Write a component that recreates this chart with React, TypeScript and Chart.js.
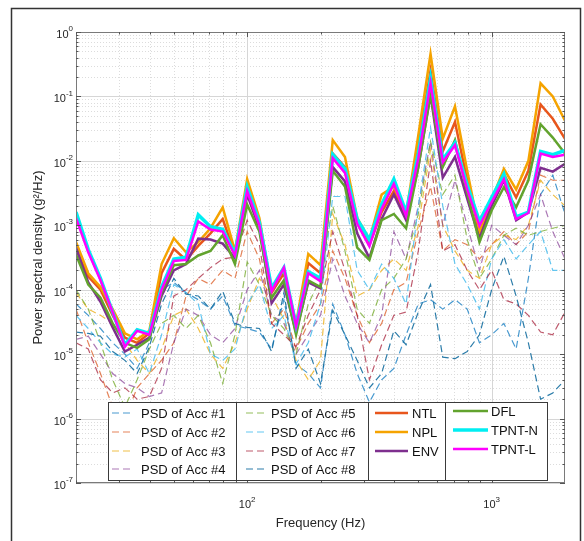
import React, { useEffect, useRef } from 'react';
import { Chart, registerables } from 'chart.js';

Chart.register(...registerables);

// ---------------- data ----------------
const freqHz = [
  19.95, 22.39, 25.12, 28.18, 31.62, 35.48, 39.81, 44.67, 50.12, 56.23,
  63.1, 70.79, 79.43, 89.13, 100, 112.2, 125.9, 141.3, 158.5, 177.8,
  199.5, 223.9, 251.2, 281.8, 316.2, 354.8, 398.1, 446.7, 501.2, 562.3,
  631.0, 707.9, 794.3, 891.3, 1000, 1122, 1259, 1413, 1585, 1778,
  1995,
];

const acc1 = [6e-5, 4e-5, 2.5e-5, 1.5e-5, 1e-5, 6e-6, 1.5e-5, 1e-4, 1.3e-4, 9e-5,
  7e-5, 5e-5, 8e-5, 2.8e-5, 2.5e-5, 2.2e-5, 1.2e-5, 7e-5, 7e-6, 5e-6,
  3e-6, 6e-5, 2e-5, 5e-6, 1.8e-6, 4e-6, 6e-6, 2e-5, 6e-5, 7e-5,
  5e-5, 7e-5, 5e-5, 1.5e-5, 2e-5, 3e-5, 1.2e-5, 1.5e-4, 3e-3, 6e-3,
  1.5e-3];
const acc2 = [5e-5, 1.5e-5, 5e-6, 1.5e-6, 1e-6, 3e-6, 5e-6, 8e-6, 1.5e-5, 8e-5,
  1.5e-4, 1.2e-4, 2e-4, 1.5e-4, 8e-4, 3e-4, 3e-5, 5e-5, 1.2e-5, 3e-5,
  6e-5, 4e-4, 1.5e-4, 4e-5, 1.5e-5, 3e-5, 1e-4, 1.3e-4, 8e-4, 4e-3,
  4e-4, 6e-4, 5e-4, 3e-4, 5e-4, 8e-4, 5e-4, 8e-4, 6e-3, 5e-3,
  5e-3];
const acc3 = [9e-5, 5e-5, 4e-5, 3e-5, 1.5e-5, 8e-6, 5e-6, 1.2e-5, 4e-5, 5e-5,
  2.5e-5, 1e-5, 6e-6, 1.5e-5, 5e-5, 1.5e-4, 8e-5, 3.5e-5, 8e-6, 4e-6,
  8e-6, 1.5e-3, 5e-4, 8e-5, 1e-4, 2e-4, 3e-4, 2e-4, 1e-3, 1.5e-2,
  1e-3, 4e-4, 2e-4, 1.5e-4, 5e-4, 7e-4, 6e-4, 1e-3, 5e-3, 3e-3,
  2e-3];
const acc4 = [1.7e-5, 1.9e-5, 1e-5, 5e-6, 3.5e-6, 3e-6, 2.2e-6, 2.5e-6, 1.5e-5, 5e-5,
  4e-5, 2e-5, 1.5e-5, 2.5e-5, 1e-4, 2e-4, 4e-5, 3e-5, 1e-5, 2e-5,
  4e-5, 3e-4, 8e-5, 3e-5, 1.5e-5, 4e-5, 8e-4, 3e-4, 2e-3, 2e-2,
  1e-3, 5e-3, 1e-3, 2e-4, 1e-3, 7e-4, 5e-4, 1e-3, 3e-3, 8e-4,
  3e-4];
const acc5 = [1e-4, 5e-5, 1.5e-5, 4e-6, 1.5e-6, 4e-6, 1.2e-5, 3e-5, 4e-5, 2.5e-5,
  4e-5, 1.5e-5, 3.5e-6, 2e-5, 2.7e-4, 1.2e-4, 4e-5, 2.5e-5, 1e-5, 6e-5,
  1.5e-4, 2e-3, 4e-4, 5e-5, 3e-5, 1e-4, 1.5e-4, 3e-4, 1.5e-3, 2e-2,
  3e-3, 6e-3, 6e-4, 1.5e-4, 3e-4, 7e-4, 9e-4, 7e-4, 8e-4, 9e-4,
  1e-3];
const acc6 = [4e-5, 2.5e-5, 1.5e-5, 1e-5, 9e-6, 1.2e-5, 5e-6, 2e-5, 1.2e-4, 9e-5,
  6e-5, 1e-5, 8e-6, 1.2e-5, 6e-5, 1.2e-4, 2.5e-5, 4e-5, 7e-6, 1.5e-5,
  6e-5, 2.8e-3, 2.8e-3, 2e-4, 1e-4, 2.5e-4, 1.5e-4, 6e-5, 2e-3, 3.3e-2,
  2e-3, 2.5e-4, 1.2e-4, 5e-5, 3e-4, 6e-4, 3e-4, 5e-4, 8e-4, 2e-4,
  2e-4];
const acc7 = [1.5e-5, 1.2e-5, 4e-6, 2.5e-6, 3e-6, 2e-6, 2.2e-6, 6e-6, 8e-5, 1e-4,
  1.5e-4, 2.2e-4, 3e-4, 3.2e-4, 1.2e-3, 5e-4, 3e-5, 2e-5, 1.3e-5, 4e-5,
  1e-4, 8e-4, 2e-4, 4e-5, 4e-6, 1.4e-5, 4e-5, 4.5e-5, 4e-4, 1e-2,
  4e-4, 5e-4, 2e-4, 1e-4, 2e-4, 7e-5, 6e-5, 4e-5, 2.2e-5, 2e-5,
  4.5e-5];
const acc8 = [2.2e-5, 2.1e-5, 1.9e-5, 1.1e-5, 8e-6, 5e-6, 1.3e-5, 6e-5, 1.5e-4, 8.5e-5,
  8e-5, 5e-5, 9.5e-5, 3e-5, 2.6e-5, 2.5e-5, 1.1e-5, 9e-5, 6e-6, 1.2e-5,
  3.5e-6, 4.8e-5, 2e-5, 8e-6, 3e-6, 5e-6, 2.3e-5, 1.4e-5, 4.5e-5, 1.2e-4,
  9e-6, 8.5e-6, 1.1e-5, 2e-5, 1e-4, 3.3e-4, 8e-5, 1.5e-5, 2e-6, 2.5e-6,
  4e-6];

const ntl = [4.2e-4, 1.6e-4, 1.0e-4, 4.0e-5, 1.8e-5, 1.5e-5, 2.1e-5, 1.8e-4, 4.3e-4, 2.9e-4,
  4.8e-4, 7.5e-4, 1.25e-3, 3.6e-4, 4.2e-3, 1.1e-3, 9.0e-5, 1.8e-4, 2.6e-5, 2.6e-4,
  1.8e-4, 1.3e-2, 8.0e-3, 1.1e-3, 5.0e-4, 1.6e-3, 3.4e-3, 1.3e-3, 1.8e-2, 2.5e-1,
  1.4e-2, 4.0e-2, 5.0e-3, 7.5e-4, 2.3e-3, 6.2e-3, 2.7e-3, 7.0e-3, 7.5e-2, 4.5e-2,
  2.2e-2];
const npl = [5.5e-4, 1.8e-4, 1.1e-4, 5e-5, 2.1e-5, 1.7e-5, 2.3e-5, 2.5e-4, 6.3e-4, 3.8e-4,
  5.5e-4, 9e-4, 1.9e-3, 4e-4, 5.2e-3, 1.3e-3, 1.0e-4, 2.1e-4, 3e-5, 3.6e-4,
  2.4e-4, 2.1e-2, 1.15e-2, 1.3e-3, 6e-4, 3e-3, 4e-3, 1.5e-3, 2.5e-2, 4.6e-1,
  2.2e-2, 7e-2, 7e-3, 8e-4, 2.5e-3, 7.5e-3, 3.6e-3, 1e-2, 1.6e-1, 1.0e-1,
  4.2e-2];
const env = [4.5e-4, 1.3e-4, 6.5e-5, 2.6e-5, 1.1e-5, 1.4e-5, 1.8e-5, 8.0e-5, 2.0e-4, 2.5e-4,
  6.2e-4, 6.0e-4, 5.2e-4, 3.1e-4, 3.0e-3, 9.0e-4, 6.2e-5, 1.2e-4, 2.2e-5, 1.3e-4,
  1.05e-4, 8.0e-3, 4.8e-3, 7.5e-4, 3.1e-4, 1.25e-3, 3.0e-3, 1.2e-3, 8.0e-3, 1.05e-1,
  5.5e-3, 1.15e-2, 2.6e-3, 6.2e-4, 2.0e-3, 5.0e-3, 1.2e-3, 1.6e-3, 7.8e-3, 6.8e-3,
  9.0e-3];
const dfl = [3.5e-4, 1.2e-4, 7.5e-5, 3.0e-5, 1.5e-5, 1.25e-5, 1.7e-5, 9.0e-5, 2.4e-4, 2.5e-4,
  3.4e-4, 4.0e-4, 7.0e-4, 2.5e-4, 2.1e-3, 8.0e-4, 7.5e-5, 1.4e-4, 2.0e-5, 1.4e-4,
  1.1e-4, 7.0e-3, 4.0e-3, 4.5e-4, 2.9e-4, 1.2e-3, 1.5e-3, 9.0e-4, 8.0e-3, 1.1e-1,
  8.0e-3, 2.1e-2, 3.2e-3, 5.5e-4, 1.7e-3, 3.9e-3, 1.9e-3, 5.0e-3, 3.7e-2, 2.3e-2,
  1.3e-2];
const tpntN = [1.6e-3, 4.2e-4, 1.5e-4, 4.5e-5, 1.4e-5, 2.4e-5, 2.1e-5, 1.1e-4, 3.0e-4, 3.2e-4,
  1.45e-3, 9.5e-4, 8.7e-4, 3.6e-4, 3.9e-3, 1.1e-3, 1.05e-4, 2.2e-4, 2.8e-5, 1.9e-4,
  1.5e-4, 1.25e-2, 7.5e-3, 1.25e-3, 6.0e-4, 2.1e-3, 5.2e-3, 1.6e-3, 1.3e-2, 1.9e-1,
  1.05e-2, 1.9e-2, 4.2e-3, 1.15e-3, 2.7e-3, 6.2e-3, 1.35e-3, 1.6e-3, 1.4e-2, 1.25e-2,
  1.45e-2];
const tpntL = [1.3e-3, 3.8e-4, 1.4e-4, 4.5e-5, 1.3e-5, 2.3e-5, 2.0e-5, 1.0e-4, 2.8e-4, 2.9e-4,
  1.15e-3, 8.6e-4, 8.0e-4, 3.4e-4, 3.4e-3, 1.0e-3, 9.5e-5, 2.2e-4, 2.7e-5, 1.8e-4,
  1.35e-4, 1.1e-2, 6.5e-3, 1.05e-3, 4.7e-4, 1.8e-3, 4.4e-3, 1.4e-3, 1.1e-2, 1.6e-1,
  9.5e-3, 1.75e-2, 3.6e-3, 9.8e-4, 2.3e-3, 5.2e-3, 1.25e-3, 1.55e-3, 1.3e-2, 1.15e-2,
  1.25e-2];

const accLabels = ['PSD of Acc #1', 'PSD of Acc #2', 'PSD of Acc #3', 'PSD of Acc #4',
  'PSD of Acc #5', 'PSD of Acc #6', 'PSD of Acc #7', 'PSD of Acc #8'];
const methodLabels = ['NTL', 'NPL', 'ENV', 'DFL', 'TPNT-N', 'TPNT-L'];

const yTickExps = [0, -1, -2, -3, -4, -5, -6, -7];
const xTickExps = [2, 3];
const xTitle = 'Frequency (Hz)';
const yTitle = 'Power spectral density (g\u00B2/Hz)';

// ---------------- styles ----------------
const accColors = [
  'rgba(0,114,189,0.72)', 'rgba(217,83,25,0.72)', 'rgba(237,177,32,0.82)', 'rgba(126,47,142,0.65)',
  'rgba(119,172,48,0.78)', 'rgba(77,190,238,0.88)', 'rgba(162,20,47,0.7)', 'rgba(20,110,160,0.9)',
];
const methodColors = ['#E8561C', '#F5A300', '#7E2F8E', '#62A32E', '#00EEF2', '#FF00FF'];
const methodWidths = [2.5, 2.5, 2.5, 2.5, 3.5, 2.5];

const FONT = '"Liberation Sans", Arial, Helvetica, sans-serif';

function decadeValues(lo: number, hi: number) {
  const out: { v: number; major: boolean }[] = [];
  for (let e = -8; e <= 4; e++) {
    for (let m = 1; m <= 9; m++) {
      const v = m * Math.pow(10, e);
      if (v >= lo * 0.999 && v <= hi * 1.001) out.push({ v, major: m === 1 });
    }
  }
  return out;
}

const matlabPlugin = {
  id: 'matlabStyle',
  beforeDatasetsDraw(chart: any) {
    const { ctx, chartArea: a, scales } = chart;
    const x = scales.x, y = scales.y;
    const yv = decadeValues(y.min, y.max);
    const xv = decadeValues(x.min, x.max);
    ctx.save();
    ctx.lineWidth = 1;
    // minor grid
    ctx.strokeStyle = '#dcdcdc';
    ctx.setLineDash([1, 2]);
    ctx.beginPath();
    yv.filter(t => !t.major).forEach(t => {
      const p = Math.round(y.getPixelForValue(t.v)) + 0.5;
      ctx.moveTo(a.left, p); ctx.lineTo(a.right, p);
    });
    xv.filter(t => !t.major).forEach(t => {
      const p = Math.round(x.getPixelForValue(t.v)) + 0.5;
      ctx.moveTo(p, a.top); ctx.lineTo(p, a.bottom);
    });
    ctx.stroke();
    // major grid
    ctx.setLineDash([]);
    ctx.strokeStyle = '#d6d6d6';
    ctx.beginPath();
    yv.filter(t => t.major).forEach(t => {
      const p = Math.round(y.getPixelForValue(t.v)) + 0.5;
      ctx.moveTo(a.left, p); ctx.lineTo(a.right, p);
    });
    xv.filter(t => t.major).forEach(t => {
      const p = Math.round(x.getPixelForValue(t.v)) + 0.5;
      ctx.moveTo(p, a.top); ctx.lineTo(p, a.bottom);
    });
    ctx.stroke();
    ctx.restore();
  },
  afterDatasetsDraw(chart: any) {
    const { ctx, chartArea: a, scales } = chart;
    const x = scales.x, y = scales.y;
    const yv = decadeValues(y.min, y.max);
    const xv = decadeValues(x.min, x.max);
    ctx.save();

    // plot box
    ctx.strokeStyle = '#7a7a7a';
    ctx.lineWidth = 1;
    ctx.strokeRect(Math.round(a.left) + 0.5, Math.round(a.top) + 0.5,
      Math.round(a.right - a.left) - 1, Math.round(a.bottom - a.top) - 1);

    // tick marks (inside, all four sides)
    ctx.strokeStyle = '#555';
    ctx.beginPath();
    yv.forEach(t => {
      const p = Math.round(y.getPixelForValue(t.v)) + 0.5;
      const L = t.major ? 5 : 2.5;
      ctx.moveTo(a.left, p); ctx.lineTo(a.left + L, p);
      ctx.moveTo(a.right, p); ctx.lineTo(a.right - L, p);
    });
    xv.forEach(t => {
      const p = Math.round(x.getPixelForValue(t.v)) + 0.5;
      const L = t.major ? 5 : 2.5;
      ctx.moveTo(p, a.bottom); ctx.lineTo(p, a.bottom - L);
      ctx.moveTo(p, a.top); ctx.lineTo(p, a.top + L);
    });
    ctx.stroke();

    // tick labels
    ctx.fillStyle = '#262626';
    ctx.textBaseline = 'middle';
    const bigF = '11px ' + FONT, smallF = '8px ' + FONT;
    yTickExps.forEach(e => {
      const py = y.getPixelForValue(Math.pow(10, e));
      const es = String(e);
      ctx.font = smallF;
      const ew = ctx.measureText(es).width;
      const right = a.left - 3;
      ctx.textAlign = 'left';
      ctx.fillText(es, right - ew, py - 3);
      ctx.font = bigF;
      ctx.textAlign = 'right';
      ctx.fillText('10', right - ew, py + 3);
    });
    xTickExps.forEach(e => {
      const px = x.getPixelForValue(Math.pow(10, e));
      const es = String(e);
      ctx.font = smallF;
      const ew = ctx.measureText(es).width;
      ctx.font = bigF;
      const bw = ctx.measureText('10').width;
      const start = px - (bw + ew) / 2;
      ctx.textAlign = 'left';
      ctx.fillText('10', start, a.bottom + 22);
      ctx.font = smallF;
      ctx.fillText(es, start + bw, a.bottom + 17);
    });

    // axis titles
    ctx.font = '13px ' + FONT;
    ctx.textAlign = 'center';
    ctx.fillText(xTitle, (a.left + a.right) / 2, a.bottom + 40);
    ctx.save();
    ctx.translate(38, (a.top + a.bottom) / 2);
    ctx.rotate(-Math.PI / 2);
    ctx.fillText(yTitle, 0, 0);
    ctx.restore();

    // legend
    const L = { left: 108.5, top: 402.5, right: 547.5, bottom: 480.5, divs: [236.5, 368.5, 445.5] };
    ctx.fillStyle = '#ffffff';
    ctx.fillRect(L.left, L.top, L.right - L.left, L.bottom - L.top);
    ctx.strokeStyle = '#3a3a3a';
    ctx.lineWidth = 1;
    ctx.strokeRect(L.left, L.top, L.right - L.left, L.bottom - L.top);
    ctx.beginPath();
    L.divs.forEach(d => { ctx.moveTo(d, L.top); ctx.lineTo(d, L.bottom); });
    ctx.stroke();

    const ds = chart.data.datasets;
    const cols = [
      { lx0: 112, lx1: 134, tx: 141, rows: [413, 432, 451, 469], items: [0, 1, 2, 3] },
      { lx0: 246, lx1: 267, tx: 271, rows: [413, 432, 451, 469], items: [4, 5, 6, 7] },
      { lx0: 375, lx1: 408, tx: 412, rows: [413, 432, 451], items: [8, 9, 10] },
      { lx0: 453, lx1: 488, tx: 491, rows: [411, 430, 449], items: [11, 12, 13] },
    ];
    ctx.font = '13px ' + FONT;
    ctx.textAlign = 'left';
    ctx.textBaseline = 'middle';
    cols.forEach(c => {
      c.items.forEach((di, r) => {
        const d = ds[di];
        const ry = c.rows[r];
        ctx.save();
        ctx.strokeStyle = d.borderColor;
        ctx.lineWidth = d.borderWidth;
        ctx.setLineDash(d.borderDash || []);
        ctx.beginPath();
        ctx.moveTo(c.lx0, ry); ctx.lineTo(c.lx1, ry);
        ctx.stroke();
        ctx.restore();
        ctx.fillStyle = '#111';
        ctx.fillText(d.label, c.tx, ry + 1);
      });
    });

    // outer figure frame
    ctx.strokeStyle = '#333';
    ctx.lineWidth = 1.5;
    ctx.beginPath();
    ctx.moveTo(11.5, 545); ctx.lineTo(11.5, 8.5); ctx.lineTo(580.5, 8.5); ctx.lineTo(580.5, 545);
    ctx.stroke();

    ctx.restore();
  },
};

export default function App() {
  const ref = useRef<HTMLCanvasElement | null>(null);

  useEffect(() => {
    if (!ref.current) return;
    const toPts = (arr: number[]) => arr.map((v, i) => ({ x: freqHz[i], y: v }));
    const accSeries = [acc1, acc2, acc3, acc4, acc5, acc6, acc7, acc8];
    const methodSeries = [ntl, npl, env, dfl, tpntN, tpntL];

    const datasets: any[] = [];
    accSeries.forEach((s, i) => {
      datasets.push({
        label: accLabels[i],
        data: toPts(s),
        borderColor: accColors[i],
        backgroundColor: accColors[i],
        borderWidth: 1.2,
        borderDash: [7, 4],
        pointRadius: 0,
        tension: 0,
        fill: false,
        order: 30 - i,
      });
    });
    methodSeries.forEach((s, i) => {
      datasets.push({
        label: methodLabels[i],
        data: toPts(s),
        borderColor: methodColors[i],
        backgroundColor: methodColors[i],
        borderWidth: methodWidths[i],
        pointRadius: 0,
        tension: 0,
        fill: false,
        borderJoinStyle: 'miter',
        order: 10 - i,
      });
    });

    const chart = new Chart(ref.current, {
      type: 'line',
      data: { datasets },
      options: {
        animation: false,
        responsive: false,
        devicePixelRatio: 1,
        layout: { padding: { left: 76, right: 19, top: 32, bottom: 58 } },
        plugins: { legend: { display: false }, tooltip: { enabled: false } },
        scales: {
          x: { type: 'logarithmic', min: freqHz[0], max: freqHz[freqHz.length - 1], display: false },
          y: { type: 'logarithmic', min: 1e-7, max: 1, display: false },
        },
      },
      plugins: [matlabPlugin],
    } as any);
    return () => chart.destroy();
  }, []);

  return (
    <div style={{ position: 'fixed', left: 0, top: 0, width: 584, height: 541, background: '#fff' }}>
      <canvas ref={ref} width={584} height={541} style={{ display: 'block', width: 584, height: 541 }} />
    </div>
  );
}
